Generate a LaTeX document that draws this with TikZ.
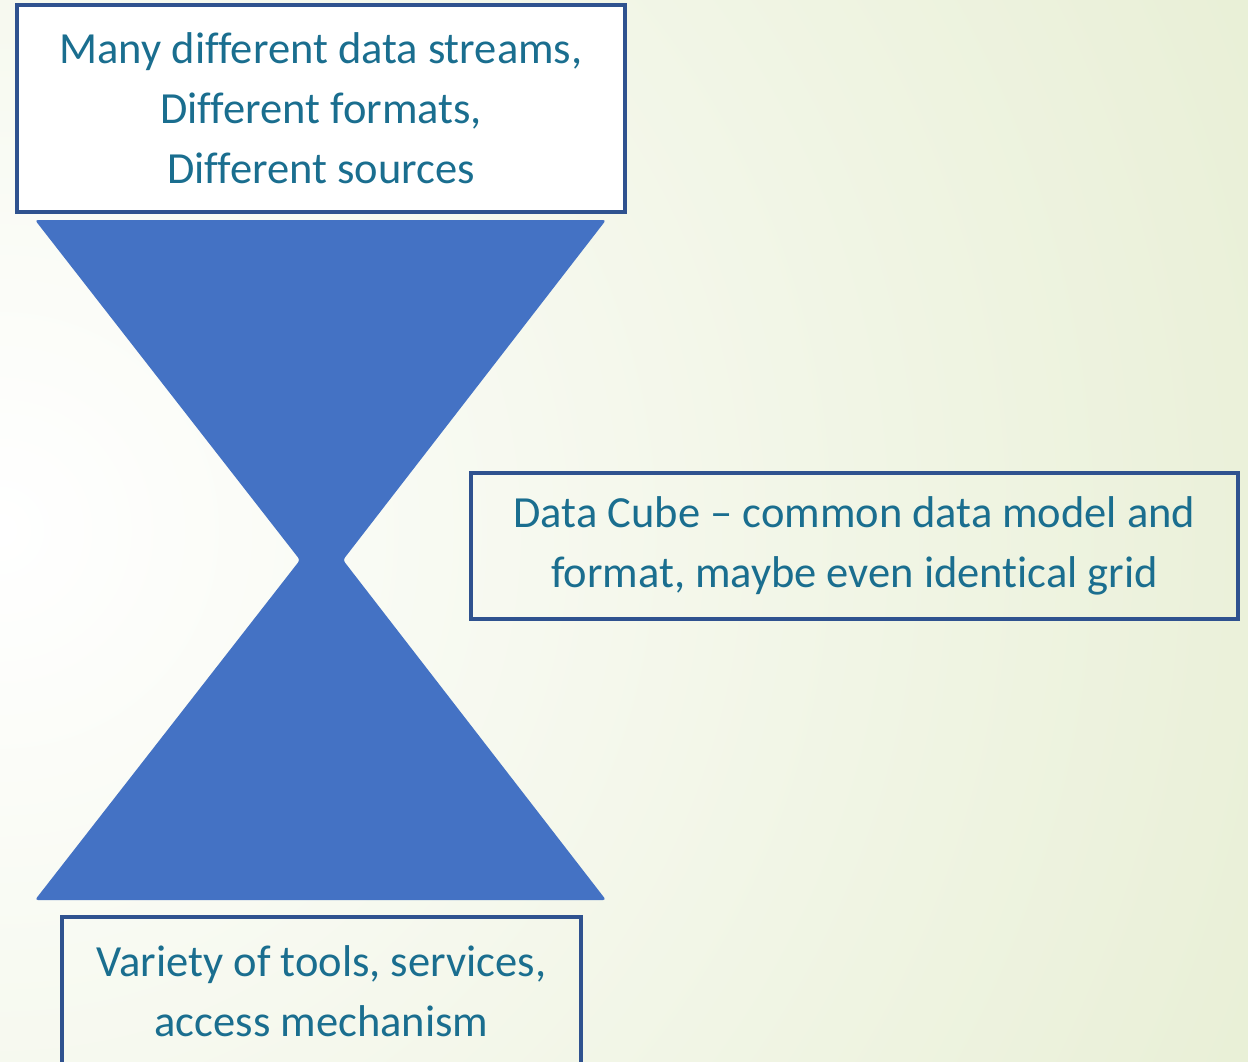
\documentclass[tikz,border=0pt]{standalone}
\usepackage{fontspec}
\setmainfont{Carlito}[Ligatures={NoCommon,NoRequired,NoContextual}]
\definecolor{boxline}{RGB}{47,82,143}
\definecolor{glassblue}{RGB}{68,114,196}
\definecolor{labelteal}{RGB}{26,110,143}
\definecolor{bggreen}{RGB}{215,227,182}

\begin{document}
\begin{tikzpicture}[x=1bp,y=-1bp,
    box/.style={rectangle,draw=boxline,line width=4bp,inner sep=0pt,align=center,text=labelteal,font=\fontsize{44.5bp}{60bp}\selectfont},
    hourglass/.style={fill=glassblue,rounded corners=3bp},
    ]
    \useasboundingbox (0,0) rectangle (1248,1062);
    \begin{scope}
    \clip (0,0) rectangle (1248,1062);
    \shade[inner color=white,outer color=bggreen] (0,530) circle (2450);
    \end{scope}
    \fill[hourglass] (35,220) -- (606,220) -- (343,560) -- (606,900) -- (35,900) -- (300,560) -- cycle;
    \node[box,fill=white,minimum width=608bp,minimum height=207bp] (S) at (321,108.5) {Many different data streams,\\Different formats,\\Different sources};
    \node[box,minimum width=767bp,minimum height=146bp] (C) at (854.5,546) {Data Cube -- common data model and\\format, maybe even identical grid};
    \node[box,minimum width=519bp,minimum height=148bp] (T) at (321.5,991) {Variety of tools, services,\\access mechanism};
\end{tikzpicture}
\end{document}
